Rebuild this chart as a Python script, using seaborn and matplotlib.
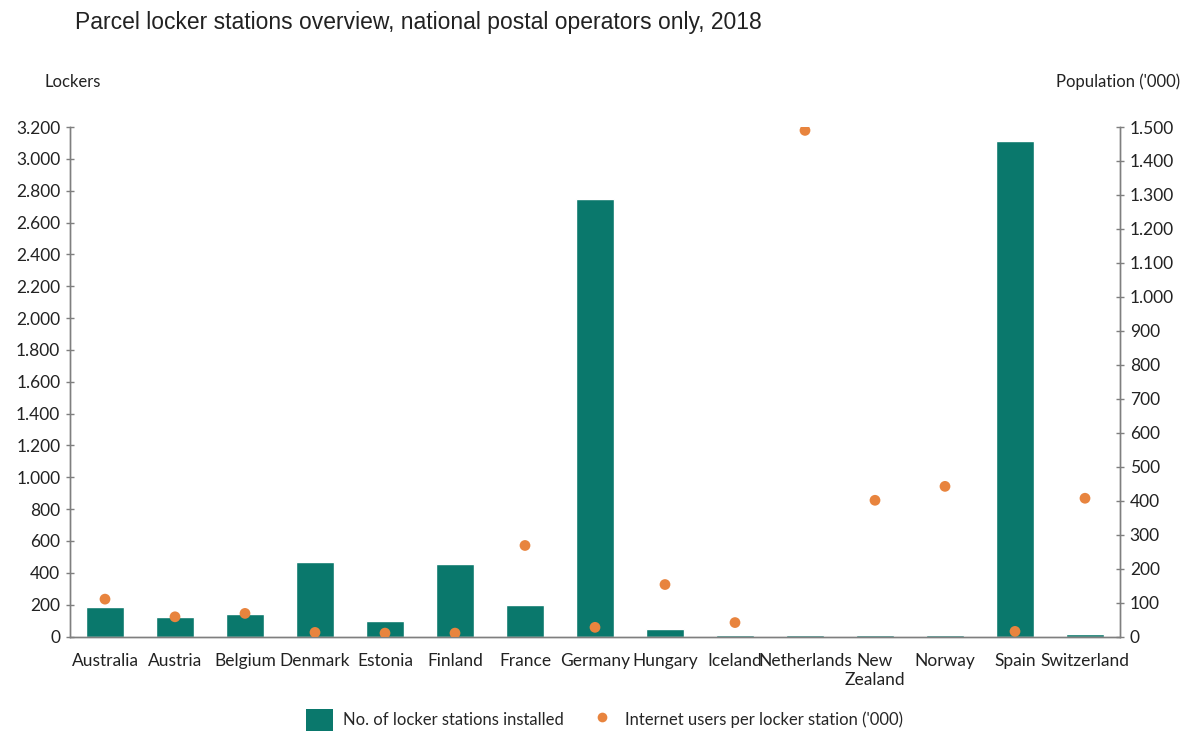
import matplotlib
matplotlib.use("Agg")
import matplotlib.pyplot as plt
import seaborn as sns
import pandas as pd
from matplotlib.ticker import FuncFormatter, MultipleLocator
from matplotlib.patches import Patch
from matplotlib.lines import Line2D

countries = ["Australia", "Austria", "Belgium", "Denmark", "Estonia", "Finland", "France",
             "Germany", "Hungary", "Iceland", "Netherlands", "New\nZealand", "Norway",
             "Spain", "Switzerland"]
lockers = [185, 120, 140, 465, 100, 455, 200, 2750, 45, 12, 10, 10, 10, 3110, 15]
users_per_locker = [110, 58, 68, 12, 10, 10, 268, 27, 153, 41, 1490, 401, 442, 15, 407]

title = "Parcel locker stations overview, national postal operators only, 2018"
left_label = "Lockers"
right_label = "Population ('000)"
bar_label = "No. of locker stations installed"
dot_label = "Internet users per locker station ('000)"

teal = "#0a786c"
orange = "#e8843e"
spine_c = "#7f7f7f"

sns.set_theme(style="white")
plt.rcParams["font.family"] = ["Lato", "DejaVu Sans"]

df = pd.DataFrame({"country": countries, "lockers": lockers, "users": users_per_locker})

fig = plt.figure(figsize=(11.86, 7.38), dpi=100)
ax = fig.add_axes([70/1186, 1-636.5/738, (1120-70)/1186, (636.5-127)/738])

sns.barplot(data=df, x="country", y="lockers", color=teal, width=0.55,
            saturation=1, ax=ax, order=countries)
ax.set_ylim(0, 3200)
ax.set_xlim(-0.5, len(countries) - 0.5)
ax.yaxis.set_major_locator(MultipleLocator(200))
fmt = FuncFormatter(lambda v, p: f"{int(round(v)):,}".replace(",", "."))
ax.yaxis.set_major_formatter(fmt)
ax.set_xlabel("")
ax.set_ylabel("")

ax2 = ax.twinx()
sns.scatterplot(data=df, x="country", y="users", color=orange, s=60,
                edgecolor="none", ax=ax2, zorder=5)
ax2.set_ylim(0, 1500)
ax2.yaxis.set_major_locator(MultipleLocator(100))
ax2.yaxis.set_major_formatter(fmt)
ax2.set_xlabel("")
ax2.set_ylabel("")
ax2.set_xlim(-0.5, len(countries) - 0.5)

for a in (ax, ax2):
    a.spines["top"].set_visible(False)
    for s in ("left", "right", "bottom"):
        a.spines[s].set_color(spine_c)
        a.spines[s].set_linewidth(1.0)
    a.grid(False)

ax.tick_params(axis="y", which="major", left=True, direction="inout", length=6,
               width=1, color=spine_c, labelsize=12.5, labelcolor="#222222", pad=4)
ax.tick_params(axis="x", bottom=False, labelsize=12.5, labelcolor="#222222", pad=6)
ax2.tick_params(axis="y", which="major", right=True, direction="inout", length=6,
                width=1, color=spine_c, labelsize=12.5, labelcolor="#222222", pad=4)

fig.text(75/1186, 1-22/738, title, fontsize=16.5, color="#222222", ha="left", va="center",
         family=["Liberation Sans Narrow", "Liberation Sans", "DejaVu Sans"])
fig.text(45/1186, 1-82/738, left_label, fontsize=12, color="#222222", ha="left", va="center")
fig.text(1180/1186, 1-82/738, right_label, fontsize=12, color="#222222", ha="right", va="center")

handles = [Patch(facecolor=teal, edgecolor="none"),
           Line2D([0], [0], marker="o", linestyle="none", markerfacecolor=orange,
                  markeredgecolor="none", markersize=7)]
fig.legend(handles, [bar_label, dot_label], loc="center", bbox_to_anchor=(0.51, 1-720/738),
           ncol=2, frameon=False, fontsize=12, handlelength=1.6, handleheight=1.6,
           columnspacing=1.5, handletextpad=0.6)

fig.savefig("out.png", dpi=100)
